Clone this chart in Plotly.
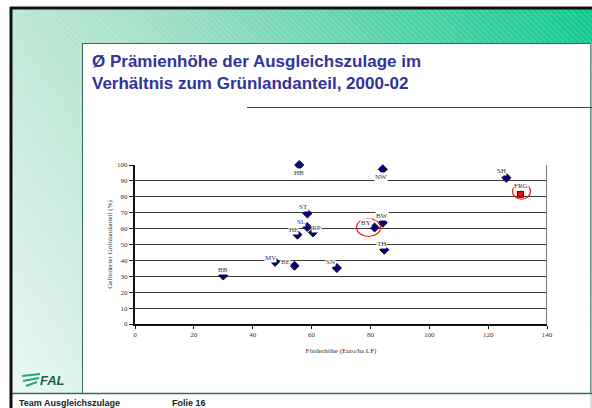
import base64
import plotly.graph_objects as go

# Bundesländer: Förderhöhe (Euro/ha LF) vs. geförderter Grünlandanteil (%)
laender = ["HB", "NW", "SH", "FRG", "ST", "BW", "SL", "BY", "RP", "HE", "TH", "MV", "BE", "SN", "BB"]
foerderhoehe = [55.8, 84.2, 126.2, 131.0, 58.6, 84.2, 58.5, 81.4, 60.5, 55.2, 84.7, 47.6, 54.2, 68.6, 30.0]
gruenland = [100.0, 97.3, 92.0, 81.6, 69.5, 63.7, 61.0, 60.7, 57.6, 56.2, 46.7, 39.1, 36.6, 35.2, 30.5]
markiert = ["BY", "FRG"]

x_ticks = [0, 20, 40, 60, 80, 100, 120, 140]
y_ticks = [0, 10, 20, 30, 40, 50, 60, 70, 80, 90, 100]

W, H = 592, 408
L, R, T, B = 135, 547, 165, 324  # plot area in pixels

# label offsets in pixels (xshift, yshift)
label_off = {
    "HB": (0, -8), "NW": (-2, -8), "SH": (-5, 7), "FRG": (0, 8), "ST": (-4, 6),
    "BW": (-1, 7), "SL": (-6, 5), "BY": (-9, 4), "RP": (3, 4), "HE": (-4, 5),
    "TH": (-3, 6), "MV": (-5, 4), "BE": (-9, 4), "SN": (-6, 6), "BB": (0, 6),
}
circle_off = {"BY": (-6, 0, 12, 9), "FRG": (1, 3, 9, 8)}


def px(x, y):
    return (x - L) / (R - L), (B - y) / (B - T)


svg = f"""<svg xmlns='http://www.w3.org/2000/svg' width='{W}' height='{H}' viewBox='0 0 {W} {H}' preserveAspectRatio='none'>
<defs>
<linearGradient id='g' gradientUnits='userSpaceOnUse' x1='12' y1='393' x2='592' y2='9'>
<stop offset='0' stop-color='#eaf7f1'/><stop offset='0.45' stop-color='#a6dfc8'/><stop offset='1' stop-color='#0fc890'/>
</linearGradient>
<pattern id='p' width='4' height='4' patternUnits='userSpaceOnUse' patternTransform='rotate(-45)'>
<line x1='0' y1='0' x2='0' y2='4' stroke='white' stroke-opacity='0.35' stroke-width='1'/>
</pattern>
</defs>
<rect x='0' y='0' width='{W}' height='{H}' fill='white'/>
<rect x='12' y='9' width='580' height='384' fill='url(#g)'/>
<rect x='12' y='9' width='580' height='384' fill='url(#p)'/>
<rect x='82.5' y='43.5' width='508' height='350' fill='white' stroke='#2e6e5e' stroke-width='1'/>
<line x1='591' y1='43' x2='591' y2='408' stroke='#bbbbbb' stroke-width='1'/>
<line x1='12' y1='393.5' x2='592' y2='393.5' stroke='#2e6e5e' stroke-width='1.5'/>
<line x1='247' y1='107.5' x2='592' y2='107.5' stroke='#333399' stroke-width='1'/>
<line x1='10' y1='8' x2='592' y2='8' stroke='#111' stroke-width='3'/>
<line x1='11' y1='7' x2='11' y2='408' stroke='#111' stroke-width='3'/>
<g stroke='#2aa07c' stroke-width='2'>
<line x1='22' y1='376' x2='40' y2='374'/><line x1='23' y1='381' x2='39' y2='378'/><line x1='26' y1='386' x2='37' y2='382'/>
</g>
</svg>"""
svg_uri = "data:image/svg+xml;base64," + base64.b64encode(svg.encode()).decode()

fig = go.Figure()

bx = [x for x, n in zip(foerderhoehe, laender) if n != "FRG"]
by = [y for y, n in zip(gruenland, laender) if n != "FRG"]
fx = [x for x, n in zip(foerderhoehe, laender) if n == "FRG"]
fy = [y for y, n in zip(gruenland, laender) if n == "FRG"]

fig.add_trace(go.Scatter(
    x=bx, y=by, mode="markers", cliponaxis=False, hoverinfo="skip",
    marker=dict(symbol="diamond", size=7, color="#000080", line=dict(color="#111", width=1)),
))
fig.add_trace(go.Scatter(
    x=fx, y=fy, mode="markers", cliponaxis=False, hoverinfo="skip",
    marker=dict(symbol="square", size=6, color="#ff0000", line=dict(color="#111", width=1)),
))

annotations = []
for n, x, y in zip(laender, foerderhoehe, gruenland):
    dx, dy = label_off[n]
    annotations.append(dict(
        x=x, y=y, text=n, showarrow=False, xshift=dx, yshift=dy,
        bgcolor="white", borderpad=0,
        font=dict(family="Liberation Serif", size=7, color="#333"),
    ))

shapes = []
for n, x, y in zip(laender, foerderhoehe, gruenland):
    if n in markiert:
        dx, dy, rx, ry = circle_off[n]
        shapes.append(dict(
            type="circle", xref="x", yref="y", xsizemode="pixel", ysizemode="pixel",
            xanchor=x, yanchor=y, x0=dx - rx, x1=dx + rx, y0=dy - ry, y1=dy + ry,
            line=dict(color="#ee1111", width=1.2),
        ))
shapes.append(dict(type="line", xref="x", yref="y", x0=140, x1=140, y0=0, y1=100,
                   line=dict(color="#555", width=1.5)))

# title and footer texts
texts = [
    (90, 62, "<b>Ø Prämienhöhe der Ausgleichszulage im</b>", 17, "#333399"),
    (90, 84, "<b>Verhältnis zum Grünlandanteil, 2000-02</b>", 17, "#333399"),
    (38, 380, "<b><i>FAL</i></b>", 13, "#1d5c54"),
    (17, 403, "<b>Team Ausgleichszulage</b>", 9, "#222"),
    (170, 403, "<b>Folie 16</b>", 9, "#222"),
]
for x, y, t, s, c in texts:
    tx, ty = px(x, y)
    annotations.append(dict(
        x=tx, y=ty, xref="paper", yref="paper", xanchor="left", yanchor="middle",
        text=t, showarrow=False, font=dict(family="Liberation Sans", size=s, color=c),
    ))

fig.update_layout(
    width=W, height=H, showlegend=False, hovermode=False,
    margin=dict(l=L, r=W - R, t=T, b=H - B),
    paper_bgcolor="white", plot_bgcolor="rgba(0,0,0,0)",
    images=[dict(source=svg_uri, xref="paper", yref="paper",
                 x=-L / (R - L), y=1 + T / (B - T),
                 sizex=W / (R - L), sizey=H / (B - T),
                 xanchor="left", yanchor="top", sizing="stretch", layer="below")],
    annotations=annotations, shapes=shapes,
    xaxis=dict(
        range=[0, 140], tickvals=x_ticks, showgrid=False, zeroline=False,
        showline=True, linecolor="#111", linewidth=2,
        ticks="outside", ticklen=3, tickcolor="#111",
        tickfont=dict(family="Liberation Serif", size=7, color="#333"),
        title=dict(text="Förderhöhe (Euro/ha LF)", standoff=10,
                   font=dict(family="Liberation Serif", size=7, color="#333")),
    ),
    yaxis=dict(
        range=[0, 100], tickvals=y_ticks, showgrid=True, gridcolor="#3a3a3a", gridwidth=1,
        zeroline=False, showline=True, linecolor="#111", linewidth=2,
        ticks="outside", ticklen=4, tickcolor="#111",
        tickfont=dict(family="Liberation Serif", size=7, color="#333"),
        title=dict(text="Geförderter Grünlandanteil (%)", standoff=4,
                   font=dict(family="Liberation Serif", size=7, color="#333")),
    ),
)

fig.write_html("out.html", config={"displayModeBar": False},
               post_script="document.body.style.margin='0';")
